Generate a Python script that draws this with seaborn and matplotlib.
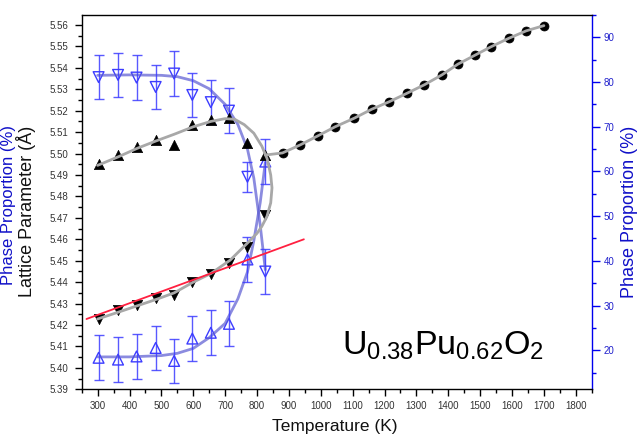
import numpy as np
import matplotlib
matplotlib.use("Agg")
import matplotlib.pyplot as plt
import seaborn as sns
from matplotlib.ticker import MultipleLocator, FormatStrFormatter

# ---------------- data ----------------
# single-phase lattice parameter (black circles)
T_single = [880, 935, 990, 1045, 1105, 1160, 1215, 1270, 1325, 1380, 1430, 1485, 1535, 1590, 1645, 1700]
a_single = [5.5003, 5.5040, 5.5082, 5.5125, 5.5165, 5.5207, 5.5242, 5.5281, 5.5321, 5.5367,
            5.5417, 5.5460, 5.5499, 5.5538, 5.5573, 5.5597]

# two-phase region temperatures
T_two = [303, 364, 422, 482, 540, 597, 655, 712, 770, 826]
a_up = [5.4950, 5.4993, 5.5029, 5.5063, 5.5039, 5.5133, 5.5157, 5.5165, 5.5048, 5.4993]   # black ▲
a_dn = [5.4228, 5.4270, 5.4293, 5.4327, 5.4340, 5.4399, 5.4438, 5.4491, 5.4565, 5.4713]   # black ▼

# phase proportions (right axis)
p_hi = [81.1, 81.6, 81.0, 78.9, 81.9, 77.1, 75.5, 73.6, 58.8, 37.6]   # blue open ▽
err_hi = [5, 5, 5, 5, 5, 5, 5, 5, 3.4, 5]
p_lo = [18.3, 17.9, 18.6, 20.5, 17.6, 22.6, 23.9, 25.9, 40.3, 62.2]   # blue open △
err_lo = [5, 5, 5, 5, 5, 5, 5, 5, 5, 5]

# guide curves
guide_T = [300, 365, 425, 485, 540, 600, 655, 700, 730, 760, 790, 815, 832, 843, 847,
           843, 831, 815, 800, 769, 716, 655, 600, 540, 485, 425, 365, 300]
guide_a = [5.4945, 5.4985, 5.5025, 5.5060, 5.5090, 5.5125, 5.5150, 5.5163, 5.5160, 5.5135,
           5.5095, 5.5035, 5.4975, 5.4900, 5.4840, 5.4770, 5.4706, 5.4660, 5.4628, 5.4581,
           5.4503, 5.4440, 5.4400, 5.4350, 5.4320, 5.4290, 5.4260, 5.4228]
blue_T = [300, 400, 500, 550, 600, 650, 700, 740, 770, 790, 810, 826]
blue_hi = [81.5, 81.6, 81.5, 81.2, 80.3, 78.5, 75.0, 70.5, 65.0, 58.5, 48.0, 38.0]
blue_lo = [18.5, 18.5, 18.8, 19.3, 20.4, 22.8, 26.0, 31.5, 37.5, 44.5, 53.0, 62.0]
red_T = [265, 947]
red_a = [5.4228, 5.4600]

x_ticks = list(range(300, 1801, 100))
# ----------------------------------------------------------------

sns.set_theme(style="ticks")
plt.rcParams["font.family"] = ["Liberation Sans", "DejaVu Sans"]
plt.rcParams["mathtext.fontset"] = "custom"
plt.rcParams["mathtext.rm"] = "Liberation Sans"
plt.rcParams["mathtext.it"] = "Liberation Sans"
plt.rcParams["mathtext.bf"] = "Liberation Sans:bold"

W, H = 638, 443
fig = plt.figure(figsize=(W / 100, H / 100), dpi=100)
fig.patch.set_facecolor("white")
L, R, T, B = 81.7, 591.7, 15.0, 389.3
ax = fig.add_axes([L / W, 1 - B / H, (R - L) / W, (B - T) / H])
ax2 = ax.twinx()
ax.set_zorder(ax2.get_zorder() + 1)
ax.patch.set_visible(False)

BLUE = "#3c3cff"
# ---------- right axis: phase proportions ----------
sns.lineplot(x=blue_T, y=blue_hi, ax=ax2, color="#5a5ad2", lw=2.0, alpha=0.7, sort=False, estimator=None)
sns.lineplot(x=blue_T, y=blue_lo, ax=ax2, color="#5a5ad2", lw=2.0, alpha=0.7, sort=False, estimator=None)
ax2.errorbar(T_two, p_hi, yerr=err_hi, fmt="none", ecolor=BLUE, elinewidth=1.0, capsize=3.5, capthick=1.0, alpha=0.85)
ax2.errorbar(T_two, p_lo, yerr=err_lo, fmt="none", ecolor=BLUE, elinewidth=1.0, capsize=3.5, capthick=1.0, alpha=0.85)
sns.scatterplot(x=T_two, y=p_hi, ax=ax2, marker="v", s=60, facecolor="none", edgecolor=BLUE, linewidth=1.0)
sns.scatterplot(x=T_two, y=p_lo, ax=ax2, marker="^", s=60, facecolor="none", edgecolor=BLUE, linewidth=1.0)

ax2.set_ylim(11.25, 95.0)
ax2.yaxis.set_major_locator(MultipleLocator(10))
ax2.yaxis.set_minor_locator(MultipleLocator(5))
ax2.tick_params(axis="y", which="major", colors="#0000ee", labelcolor="#2020cc", length=6, width=1.0,
                direction="out", labelsize=7, pad=2.5)
ax2.tick_params(axis="y", which="minor", colors="#0000ee", length=3, width=1.0, direction="out")
for s in ["top", "left", "bottom"]:
    ax2.spines[s].set_visible(False)
ax2.spines["right"].set_color("#0000ee")
ax2.spines["right"].set_linewidth(1.0)
ax2.set_ylabel("")

# ---------- left axis: lattice parameters ----------
sns.lineplot(x=guide_T, y=guide_a, ax=ax, color="#a8a8a8", lw=2.0, sort=False, estimator=None)
sns.lineplot(x=[T_two[-1]] + T_single, y=[a_up[-1]] + a_single, ax=ax, color="#a8a8a8", lw=2.0,
             sort=False, estimator=None)
sns.lineplot(x=red_T, y=red_a, ax=ax, color="#ff2040", lw=1.3, sort=False, estimator=None)
sns.scatterplot(x=T_single, y=a_single, ax=ax, marker="o", s=42, color="black", edgecolor="black", linewidth=0.5)
sns.scatterplot(x=T_two, y=a_up, ax=ax, marker="^", s=55, color="black", edgecolor="black", linewidth=0.5)
sns.scatterplot(x=T_two, y=a_dn, ax=ax, marker="v", s=55, color="black", edgecolor="black", linewidth=0.5)

ax.set_xlim(250, 1850)
ax.set_ylim(5.39, 5.39 + (B - T) / 2143.0)
ax.set_xticks(x_ticks)
ax.xaxis.set_minor_locator(MultipleLocator(50))
ax.yaxis.set_major_locator(MultipleLocator(0.01))
ax.yaxis.set_minor_locator(MultipleLocator(0.005))
ax.yaxis.set_major_formatter(FormatStrFormatter("%.2f"))
ax.tick_params(axis="both", which="major", colors="black", labelcolor="#333333", length=5.2, width=1.0,
               direction="out", labelsize=7)
ax.tick_params(axis="x", which="major", pad=3.2)
ax.tick_params(axis="y", which="major", pad=4.5)
ax.tick_params(axis="both", which="minor", colors="black", length=3.2, width=1.0, direction="out")
ax.spines["right"].set_visible(False)
for s in ["top", "left", "bottom"]:
    ax.spines[s].set_color("black")
    ax.spines[s].set_linewidth(1.0)
ax.set_xlabel("")
ax.set_ylabel("")

# ---------- texts ----------
fig.text(26 / W, 1 - 211 / H, "Lattice Parameter (Å)", rotation=90, fontsize=13, color="#111111",
         ha="center", va="center")
fig.text(9 / W, 1 - 205 / H, "Phase Proportion (%)", rotation=90, fontsize=12, color="#1010c8",
         ha="center", va="center")
fig.text(630 / W, 1 - 212 / H, "Phase Proportion (%)", rotation=90, fontsize=13, color="#1010c8",
         ha="center", va="center")
fig.text(335 / W, 1 - 426 / H, "Temperature (K)", fontsize=12.5, color="#111111", ha="center", va="center")
fig.text(342 / W, 1 - 355 / H, r"U$_{0.38}$Pu$_{0.62}$O$_2$", fontsize=24.5, color="black",
         ha="left", va="baseline")

fig.savefig("out.png", dpi=100, facecolor="white")
